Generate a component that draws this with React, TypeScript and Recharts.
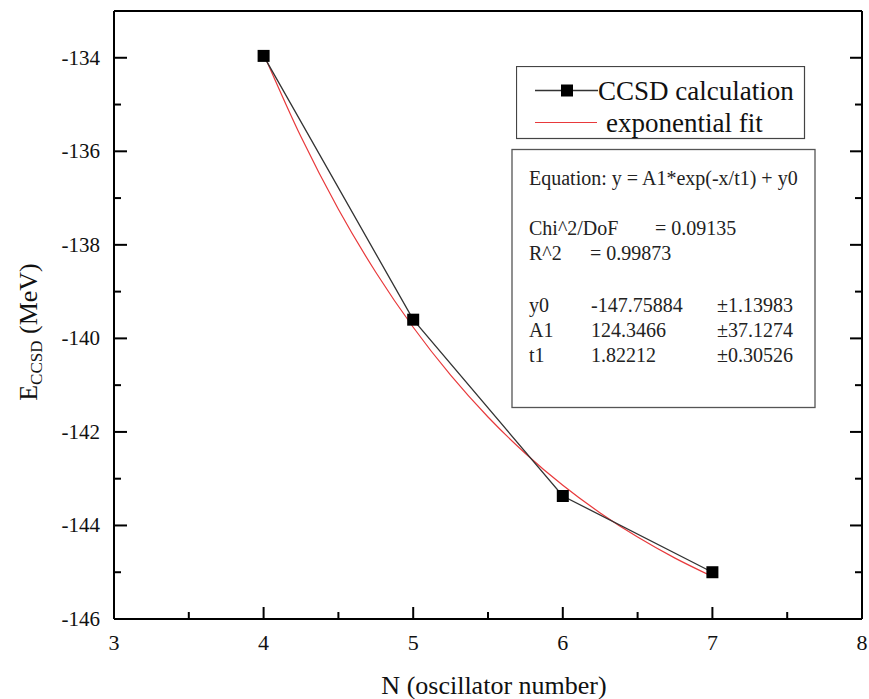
import React from 'react';
import { LineChart, Line, XAxis, YAxis, Legend } from 'recharts';

// CCSD ground-state energies vs. oscillator shell number
const nValues = [4, 5, 6, 7];
const ccsdEnergies = [-133.96, -139.6, -143.37, -145.0];

// Exponential fit y = A1*exp(-x/t1) + y0, tabulated on a fine grid
const fitN = [4, 4.25, 4.5, 4.75, 5, 5.25, 5.5, 5.75, 6, 6.25, 6.5, 6.75, 7];
const fitEnergies = [
  -133.915, -135.69, -137.238, -138.586, -139.762, -140.787, -141.681,
  -142.46, -143.14, -143.732, -144.248, -144.698, -145.091,
];

const xTicks = [3, 3.5, 4, 4.5, 5, 5.5, 6, 6.5, 7, 7.5, 8];
const yTicks = [-146, -145, -144, -143, -142, -141, -140, -139, -138, -137, -136, -135, -134];

const equationText = 'Equation: y = A1*exp(-x/t1) + y0';
const statNames = ['Chi^2/DoF', 'R^2'];
const statValues = ['= 0.09135', '=  0.99873'];
const paramNames = ['y0', 'A1', 't1'];
const paramValues = ['-147.75884', '124.3466', '1.82212'];
const paramErrors = ['\u00b11.13983', '\u00b137.1274', '\u00b10.30526'];

const ccsdData = nValues.map((n, i) => ({ n, e: ccsdEnergies[i] }));
const fitData = fitN.map((n, i) => ({ n, e: fitEnergies[i] }));

const FONT = "'Liberation Serif', 'Times New Roman', serif";
const AXIS = { stroke: '#000', strokeWidth: 2 };

const BottomTick = (props: any) => {
  const { x, y, payload } = props;
  const major = Number.isInteger(payload.value);
  return (
    <g>
      <line x1={x} x2={x} y1={y} y2={y - (major ? 12 : 7)} stroke="#000" strokeWidth={2} />
      {major && (
        <text x={x} y={y + 31} textAnchor="middle" fontSize={22} fontFamily={FONT} fill="#111">
          {payload.value}
        </text>
      )}
    </g>
  );
};

const TopTick = (props: any) => {
  const { x, y, payload } = props;
  const major = Number.isInteger(payload.value);
  return <line x1={x} x2={x} y1={y} y2={y + (major ? 12 : 7)} stroke="#000" strokeWidth={2} />;
};

const LeftTick = (props: any) => {
  const { x, y, payload } = props;
  const major = payload.value % 2 === 0;
  return (
    <g>
      <line x1={x} x2={x + (major ? 13 : 7)} y1={y} y2={y} stroke="#000" strokeWidth={2} />
      {major && (
        <text x={x - 14} y={y + 7} textAnchor="end" fontSize={21} fontFamily={FONT} fill="#111">
          {payload.value}
        </text>
      )}
    </g>
  );
};

const RightTick = (props: any) => {
  const { x, y, payload } = props;
  const major = payload.value % 2 === 0;
  return <line x1={x} x2={x - (major ? 12 : 7)} y1={y} y2={y} stroke="#000" strokeWidth={2} />;
};

const SquareDot = (props: any) => {
  const { cx, cy } = props;
  if (cx == null || cy == null) return null;
  return <rect x={cx - 6} y={cy - 6} width={12} height={12} fill="#000" />;
};

const XTitle = (props: any) => {
  const vb = props.viewBox;
  return (
    <text x={vb.x + vb.width / 2 + 6} y={vb.y + 75} textAnchor="middle" fontSize={26} fontFamily={FONT} fill="#111">
      N (oscillator number)
    </text>
  );
};

const YTitle = (props: any) => {
  const vb = props.viewBox;
  const cx = vb.x + 37;
  const cy = vb.y + vb.height / 2 + 17;
  return (
    <text x={cx} y={cy} transform={`rotate(-90 ${cx} ${cy})`} textAnchor="middle" fontSize={26} fontFamily={FONT} fill="#111">
      E
      <tspan fontSize={17} dy={5}>CCSD</tspan>
      <tspan dy={-5}> (MeV)</tspan>
    </text>
  );
};

const LegendBox = () => (
  <svg width={290} height={74} style={{ display: 'block' }}>
    <rect x={0.5} y={0.5} width={288} height={72} fill="#fff" stroke="#444" strokeWidth={1.2} />
    <line x1={19} x2={82} y1={24.5} y2={24.5} stroke="#333" strokeWidth={1.3} />
    <rect x={45} y={18.5} width={12} height={12} fill="#000" />
    <text x={82} y={34} fontSize={27} fontFamily={FONT} fill="#111">CCSD calculation</text>
    <line x1={19} x2={81} y1={56.5} y2={56.5} stroke="#e8393b" strokeWidth={1.2} />
    <text x={90} y={65.5} fontSize={27} fontFamily={FONT} fill="#111">exponential fit</text>
  </svg>
);

const FitReport = () => (
  <svg width={869} height={699} style={{ position: 'absolute', left: 0, top: 0, pointerEvents: 'none' }}>
    <rect x={512} y={149.5} width={303} height={258} fill="#fff" stroke="#555" strokeWidth={1.3} />
    <g fontSize={20} fontFamily={FONT} fill="#222">
      <text x={529} y={185}>{equationText}</text>
      <text x={529} y={235}>{statNames[0]}</text>
      <text x={655} y={235}>{statValues[0]}</text>
      <text x={529} y={260}>{statNames[1]}</text>
      <text x={590} y={260}>{statValues[1]}</text>
      {paramNames.map((p, i) => (
        <g key={p}>
          <text x={529} y={311.5 + i * 25}>{p}</text>
          <text x={591} y={311.5 + i * 25}>{paramValues[i]}</text>
          <text x={717} y={311.5 + i * 25}>{paramErrors[i]}</text>
        </g>
      ))}
    </g>
  </svg>
);

export default function App() {
  return (
    <div style={{ position: 'absolute', left: 0, top: 0, width: 869, height: 699, background: '#fff', fontFamily: FONT }}>
      <LineChart width={869} height={699} margin={{ top: 10, right: 6, bottom: 0, left: 0 }}>
        <XAxis
          xAxisId={0}
          dataKey="n"
          type="number"
          domain={[3, 8]}
          allowDataOverflow
          ticks={xTicks}
          interval={0}
          height={80}
          axisLine={AXIS}
          tickLine={false}
          tickSize={0}
          tickMargin={0}
          tick={<BottomTick />}
          label={<XTitle />}
        />
        <XAxis
          xAxisId="top"
          orientation="top"
          type="number"
          domain={[3, 8]}
          allowDataOverflow
          ticks={xTicks}
          interval={0}
          height={1}
          axisLine={AXIS}
          tickLine={false}
          tickSize={0}
          tickMargin={0}
          tick={<TopTick />}
        />
        <YAxis
          yAxisId={0}
          type="number"
          domain={[-146, -133]}
          allowDataOverflow
          ticks={yTicks}
          interval={0}
          width={114}
          axisLine={AXIS}
          tickLine={false}
          tickSize={0}
          tickMargin={0}
          tick={<LeftTick />}
          label={<YTitle />}
        />
        <YAxis
          yAxisId="right"
          orientation="right"
          type="number"
          domain={[-146, -133]}
          allowDataOverflow
          ticks={yTicks}
          interval={0}
          width={1}
          axisLine={AXIS}
          tickLine={false}
          tickSize={0}
          tickMargin={0}
          tick={<RightTick />}
        />
        <Legend
          layout="horizontal"
          verticalAlign="middle"
          align="center"
          width={290}
          height={74}
          wrapperStyle={{ position: 'absolute', left: 516, top: 66, width: 290, height: 74 }}
          content={() => <LegendBox />}
        />
        <Line
          data={fitData}
          dataKey="e"
          name="exponential fit"
          type="monotone"
          stroke="#e8393b"
          strokeWidth={1.2}
          dot={false}
          activeDot={false}
          isAnimationActive={false}
        />
        <Line
          data={ccsdData}
          dataKey="e"
          name="CCSD calculation"
          type="linear"
          stroke="#333"
          strokeWidth={1.3}
          dot={<SquareDot />}
          activeDot={false}
          isAnimationActive={false}
        />
      </LineChart>
      <FitReport />
    </div>
  );
}
